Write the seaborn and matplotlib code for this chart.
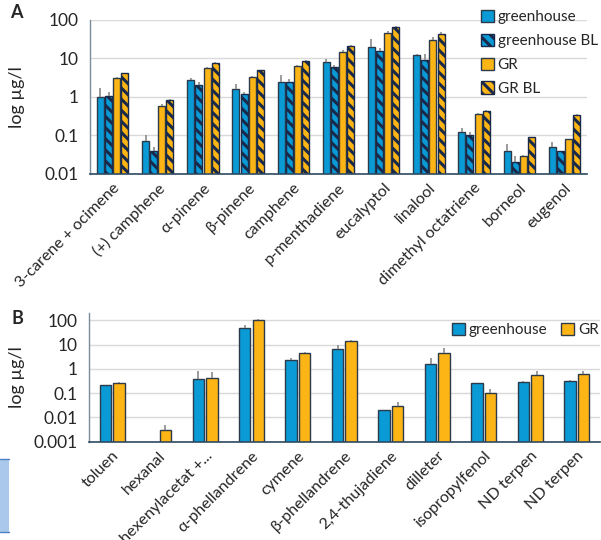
import numpy as np
import pandas as pd
import seaborn as sns
import matplotlib
matplotlib.use("Agg")
import matplotlib.pyplot as plt
from matplotlib.patches import Patch, Rectangle
from matplotlib.ticker import FixedLocator, FixedFormatter, NullLocator

# ---------------- data ----------------
compounds_a = ["3-carene + ocimene", "(+) camphene", "\u03b1-pinene", "\u03b2-pinene", "camphene",
               "p-menthadiene", "eucalyptol", "linalool", "dimethyl octatriene", "borneol", "eugenol"]
series_a = ["greenhouse", "greenhouse BL", "GR", "GR BL"]
gh_a     = [1.0, 0.071, 2.7, 1.65, 2.45, 7.9, 20.0, 12.0, 0.12, 0.040, 0.050]
gh_bl_a  = [1.08, 0.040, 2.05, 1.22, 2.45, 6.1, 16.0, 9.2, 0.10, 0.020, 0.040]
gr_a     = [3.2, 0.60, 5.6, 3.3, 6.5, 15.0, 47.0, 31.0, 0.37, 0.030, 0.080]
gr_bl_a  = [4.1, 0.82, 7.6, 5.0, 8.6, 21.5, 66.0, 44.0, 0.43, 0.090, 0.34]
err_gh_a    = [0.75, 0.03, 0.5, 0.55, 1.3, 1.9, 12.0, 1.2, 0.035, 0.019, 0.019]
err_gh_bl_a = [0.30, 0.009, 0.42, 0.12, 0.55, 0.7, 2.5, 3.5, 0.025, 0.010, 0.0]
err_gr_a    = [0.15, 0.04, 0.5, 0.25, 0.3, 1.5, 6.0, 5.0, 0.02, 0.001, 0.002]
err_gr_bl_a = [0.1, 0.07, 0.4, 0.1, 0.3, 1.2, 5.0, 4.0, 0.02, 0.004, 0.015]

compounds_b = ["toluen", "hexanal", "hexenylacetat +...", "\u03b1-phellandrene", "cymene",
               "\u03b2-phellandrene", "2,4-thujadiene", "dilleter", "isopropylfenol", "ND terpen", "ND terpen"]
series_b = ["greenhouse", "GR"]
gh_b  = [0.21, np.nan, 0.365, 47.0, 2.4, 6.6, 0.0207, 1.55, 0.25, 0.30, 0.31]
gr_b  = [0.26, 0.0031, 0.44, 103.0, 4.3, 14.1, 0.030, 4.7, 0.103, 0.585, 0.60]
err_gh_b = [0.01, np.nan, 0.45, 19.0, 0.5, 3.1, 0.0, 1.35, 0.02, 0.03, 0.03]
err_gr_b = [0.03, 0.002, 0.3, 10.0, 0.5, 2.0, 0.013, 2.4, 0.052, 0.25, 0.23]

yticks_a = [0.01, 0.1, 1, 10, 100]
yticklabels_a = ["0.01", "0.1", "1", "10", "100"]
yticks_b = [0.001, 0.01, 0.1, 1, 10, 100]
yticklabels_b = ["0.001", "0.01", "0.1", "1", "10", "100"]

# ---------------- style ----------------
sns.set_style("white")
plt.rcParams["font.family"] = ["Lato", "DejaVu Sans"]
plt.rcParams["hatch.linewidth"] = 2.2

BLUE = "#0a9bd7"
ORANGE = "#fdb515"
NAVY = "#18294a"
EDGE = "#2c3a4a"
GRID = "#d9d9d9"
ERR = "#8a8a8a"
TXT = "#262626"
HATCH = "\\\\\\"

fig = plt.figure(figsize=(6.01, 5.40), dpi=100)
ax_a = fig.add_axes([0.1498, 0.6778, 0.8269, 0.2852])
ax_b = fig.add_axes([0.148, 0.182, 0.850, 0.2384])

# ---------------- panel A ----------------
df_a = pd.DataFrame({
    "compound": compounds_a * 4,
    "series": sum([[s] * len(compounds_a) for s in series_a], []),
    "value": gh_a + gh_bl_a + gr_a + gr_bl_a,
})
errs_a = [err_gh_a, err_gh_bl_a, err_gr_a, err_gr_bl_a]
vals_a = [gh_a, gh_bl_a, gr_a, gr_bl_a]
pal_a = {"greenhouse": BLUE, "greenhouse BL": BLUE, "GR": ORANGE, "GR BL": ORANGE}
sns.barplot(data=df_a, x="compound", y="value", hue="series", hue_order=series_a,
            palette=pal_a, width=0.72, gap=0.14, errorbar=None, ax=ax_a,
            edgecolor=EDGE, linewidth=1.0, legend=False, saturation=1)
ax_a.set_yscale("log")
for ci, cont in enumerate(ax_a.containers):
    hatched = series_a[ci].endswith("BL")
    for bar in cont:
        if hatched:
            bar.set_hatch(HATCH)
            bar.set_edgecolor(NAVY)
        xc = bar.get_x() + bar.get_width() / 2
        idx = int(round(xc))
        e = errs_a[ci][idx]
        v = vals_a[ci][idx]
        if e and not np.isnan(e) and e > 0:
            ax_a.plot([xc, xc], [v, v + e], color=ERR, lw=1.2, zorder=1.5, solid_capstyle="butt")

ax_a.set_ylim(0.01, 100)
ax_a.set_xlim(-0.5, len(compounds_a) - 0.5)

# ---------------- panel B ----------------
df_b = pd.DataFrame({
    "compound": list(range(len(compounds_b))) * 2,
    "series": sum([[s] * len(compounds_b) for s in series_b], []),
    "value": gh_b + gr_b,
})
errs_b = [err_gh_b, err_gr_b]
vals_b = [gh_b, gr_b]
pal_b = {"greenhouse": BLUE, "GR": ORANGE}
sns.barplot(data=df_b, x="compound", y="value", hue="series", hue_order=series_b,
            palette=pal_b, width=0.58, gap=0.15, errorbar=None, ax=ax_b,
            edgecolor=EDGE, linewidth=1.0, legend=False, saturation=1, native_scale=False)
ax_b.set_yscale("log")
for ci, cont in enumerate(ax_b.containers):
    for bar in cont:
        xc = bar.get_x() + bar.get_width() / 2
        idx = int(round(xc))
        e = errs_b[ci][idx]
        v = vals_b[ci][idx]
        if e and not np.isnan(e) and e > 0 and not np.isnan(v):
            ax_b.plot([xc, xc], [v, v + e], color=ERR, lw=1.2, zorder=1.5, solid_capstyle="butt")
ax_b.set_ylim(0.001, 200)
ax_b.set_xlim(-0.5, len(compounds_b) - 0.5)
ax_b.set_xticks(range(len(compounds_b)))
ax_b.set_xticklabels(compounds_b)

# ---------------- common axes styling ----------------
for ax, yt, ytl in [(ax_a, yticks_a, yticklabels_a), (ax_b, yticks_b, yticklabels_b)]:
    ax.yaxis.set_major_locator(FixedLocator(yt))
    ax.yaxis.set_major_formatter(FixedFormatter(ytl))
    ax.yaxis.set_minor_locator(NullLocator())
    ax.grid(axis="y", color=GRID, lw=1.0, zorder=0)
    ax.set_axisbelow(True)
    for s in ["top", "right"]:
        ax.spines[s].set_visible(False)
    ax.spines["left"].set_color("#7b8c9c")
    ax.spines["left"].set_linewidth(1.0)
    ax.spines["bottom"].set_color("#2e4a62")
    ax.spines["bottom"].set_linewidth(1.2)
    ax.tick_params(axis="y", length=0, labelsize=12.5, colors=TXT, pad=8)
    ax.tick_params(axis="x", length=0, labelsize=11.6, colors=TXT, pad=5)
    for lab in ax.get_xticklabels():
        lab.set_rotation(45)
        lab.set_ha("right")
        lab.set_rotation_mode("anchor")
    ax.set_xlabel("")
    ax.set_ylabel("log \u00b5g/l", fontsize=13, color=TXT)

ax_a.yaxis.set_label_coords(-0.13, 0.5)
ax_b.yaxis.set_label_coords(-0.125, 0.5)

# ---------------- legends ----------------
h_a = [Patch(facecolor=BLUE, edgecolor=EDGE, label="greenhouse"),
       Patch(facecolor=BLUE, edgecolor=NAVY, hatch=HATCH, label="greenhouse BL"),
       Patch(facecolor=ORANGE, edgecolor=EDGE, label="GR"),
       Patch(facecolor=ORANGE, edgecolor=NAVY, hatch=HATCH, label="GR BL")]
leg_a = fig.legend(handles=h_a, loc="upper left", bbox_to_anchor=(0.79, 0.993), frameon=False,
                   fontsize=11, handlelength=0.85, handleheight=0.85, handletextpad=0.25,
                   labelspacing=0.62, borderaxespad=0, labelcolor=TXT)

h_b = [Patch(facecolor=BLUE, edgecolor=EDGE, label="greenhouse"),
       Patch(facecolor=ORANGE, edgecolor=EDGE, label="GR")]
leg_b = fig.legend(handles=h_b, loc="upper left", bbox_to_anchor=(0.742, 0.413), frameon=False,
                   fontsize=11, ncol=2, handlelength=0.85, handleheight=0.85, handletextpad=0.25,
                   columnspacing=0.9, borderaxespad=0, labelcolor=TXT)

# ---------------- panel letters ----------------
fig.text(0.017, 0.977, "A", fontsize=13, fontweight="bold", color=TXT, va="center")
fig.text(0.019, 0.41, "B", fontsize=13, fontweight="bold", color=TXT, va="center")

# decorative side box seen at lower left of the reference
fig.patches.append(Rectangle((0, 1 - 532 / 540), 9 / 601, 73 / 540, transform=fig.transFigure,
                             facecolor="#aac8ec", edgecolor="none", zorder=0))
fig.lines.append(plt.Line2D([0, 9 / 601], [1 - 459 / 540] * 2, transform=fig.transFigure, color="#4a7fc0", lw=1))
fig.lines.append(plt.Line2D([0, 9 / 601], [1 - 532 / 540] * 2, transform=fig.transFigure, color="#4a7fc0", lw=1))

fig.savefig("out.png", dpi=100)
